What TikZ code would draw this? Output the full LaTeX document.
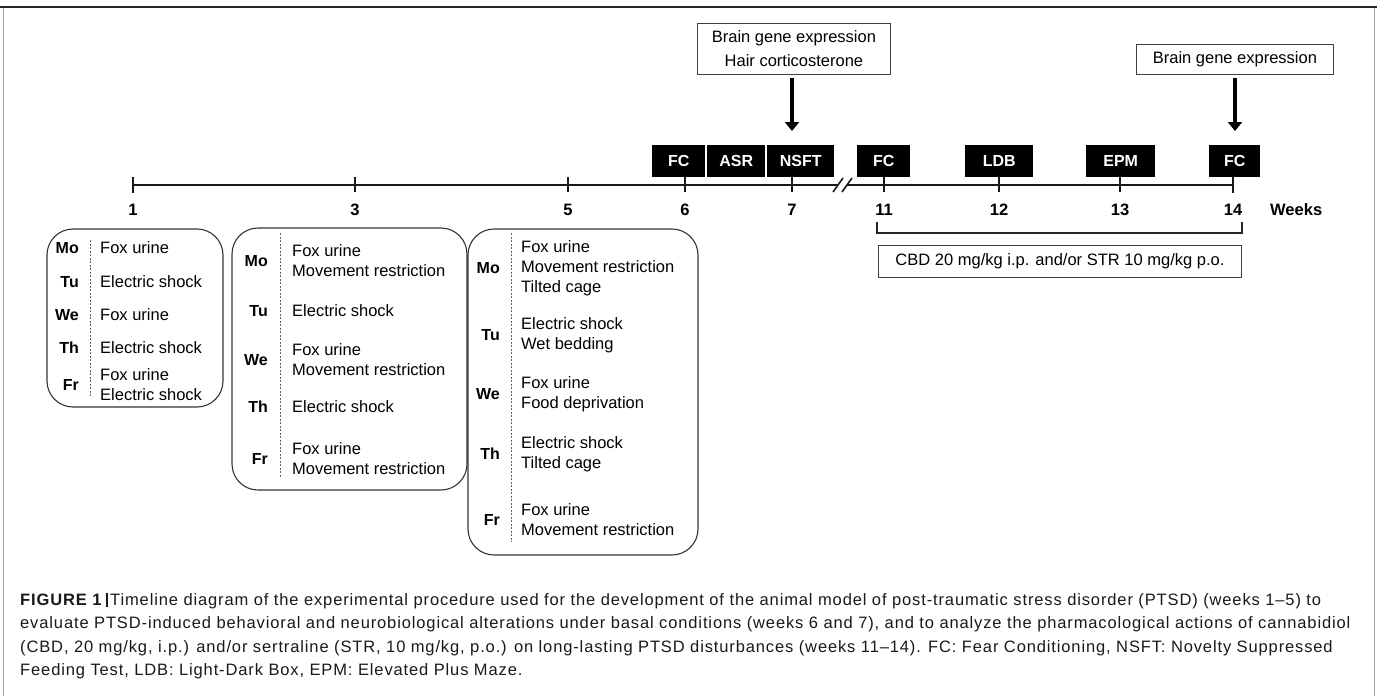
\documentclass[tikz,border=0pt]{standalone}
\usepackage{fontspec}
\setmainfont{Liberation Sans}
\newfontfamily\capfont[LetterSpace=5.3]{Liberation Sans}
\usetikzlibrary{arrows.meta}
\begin{document}
\begin{tikzpicture}[x=1pt,y=-1pt,
  txt/.style={font=\fontsize{16.5}{20}\selectfont, inner sep=0pt, align=left, anchor=west},
  day/.style={font=\bfseries\fontsize{16}{20}\selectfont, inner sep=0pt, anchor=east},
  wk/.style={font=\bfseries\fontsize{16.5}{20}\selectfont, inner sep=0pt},
  blk/.style={fill=black, text=white, font=\bfseries\fontsize{16}{20}\selectfont, inner sep=0pt, anchor=north west},
  rbox/.style={draw=black!80, line width=1.1pt, rounded corners=26pt},
  wbox/.style={draw=black!75, line width=0.9pt, fill=white, font=\fontsize{16.5}{20}\selectfont, inner sep=0pt, align=center, anchor=north west},
  dline/.style={dash pattern=on 2pt off 1.5pt, black!60, line width=0.6pt},
  tl/.style={line width=1.6pt, black!90},
  bigarrow/.style={line width=3.5pt, -{Triangle[length=9pt,width=14pt]}},
  captxt/.style={font=\capfont\fontsize{16.5}{20}\selectfont, inner sep=0pt, anchor=base west, text=black!90}
]
\useasboundingbox (0,0) rectangle (1377,696);
% frame
\draw[black!85, line width=2.2pt] (0,7) -- (1377,7);
\draw[black!35, line width=1pt] (3,8) -- (3,696);
\draw[black!35, line width=1pt] (1374,8) -- (1374,696);

% timeline
\coordinate (w1) at (133,185);
\coordinate (w3) at (355,185);
\coordinate (w5) at (568,185);
\coordinate (w6) at (685,185);
\coordinate (w7) at (792,185);
\coordinate (b1) at (838,185);
\coordinate (b2) at (847,185);
\coordinate (w11) at (884,185);
\coordinate (w12) at (999,185);
\coordinate (w13) at (1120,185);
\coordinate (w14) at (1233,185);
\draw[tl] (w1) -- (b1);
\draw[tl] (b2) -- (w14);
\draw[tl] ([shift={(-5,7)}]b1) -- ([shift={(5,-7)}]b1);
\draw[tl] ([shift={(-5,7)}]b2) -- ([shift={(5,-7)}]b2);
\foreach \c in {w1,w14} \draw[tl] ([yshift=-8]\c) -- ([yshift=8]\c);
\foreach \c in {w3,w5,w6,w7,w11,w12,w13} \draw[tl] ([yshift=-7]\c) -- ([yshift=8]\c);

% week labels
\node[wk] (l1) at (133,210) {1};
\node[wk] (l3) at (355,210) {3};
\node[wk] (l5) at (568,210) {5};
\node[wk] (l6) at (685,210) {6};
\node[wk] (l7) at (792,210) {7};
\node[wk] (l11) at (884,210) {11};
\node[wk] (l12) at (999,210) {12};
\node[wk] (l13) at (1120,210) {13};
\node[wk] (l14) at (1233,210) {14};
\node[wk, anchor=west] (lw) at (1270,210) {Weeks};

% black boxes
\node[blk, minimum width=53pt, minimum height=32pt] (fc6) at (652,145) {FC};
\node[blk, minimum width=58pt, minimum height=32pt] (asr) at (707,145) {ASR};
\node[blk, minimum width=67pt, minimum height=32pt] (nsft) at (767,145) {NSFT};
\node[blk, minimum width=53pt, minimum height=32pt] (fc11) at (857,145) {FC};
\node[blk, minimum width=68pt, minimum height=32pt] (ldb) at (965,145) {LDB};
\node[blk, minimum width=69pt, minimum height=32pt] (epm) at (1086,145) {EPM};
\node[blk, minimum width=51pt, minimum height=32pt] (fc14) at (1209,145) {FC};

% top boxes and arrows
\node[wbox, minimum width=193pt, minimum height=51pt, font=\fontsize{16.5}{24}\selectfont] (tb1) at (697,23) {Brain gene expression\\Hair corticosterone};
\node[wbox, minimum width=197pt, minimum height=30pt] (tb2) at (1136,44) {Brain gene expression};
\coordinate (a7) at (792,131);
\coordinate (a14) at (1235,131);
\draw[bigarrow] (tb1.south -| a7) ++(0,3) -- (a7);
\draw[bigarrow] (tb2.south -| a14) ++(0,3) -- (a14);

% treatment bracket
\coordinate (br1) at (877,222);
\coordinate (br2) at (1242,222);
\draw[line width=1.2pt, black!85] (br1) -- ++(0,11) -| (br2);
\node[wbox, minimum width=363pt, minimum height=32pt] (cbd) at (878,245) {CBD 20 mg/kg i.p. and/or STR 10 mg/kg p.o.};

% ---- Box 1 (week 1)
\draw[rbox] (47,229) rectangle (223,407);
\draw[dline] (90,240) -- (90,397);
\node[day] (d1mo) at (79,248) {Mo};
\node[txt] (t1mo) at (100,248) {Fox urine};
\node[day] (d1tu) at (79,282) {Tu};
\node[txt] (t1tu) at (100,282) {Electric shock};
\node[day] (d1we) at (79,315) {We};
\node[txt] (t1we) at (100,315) {Fox urine};
\node[day] (d1th) at (79,348) {Th};
\node[txt] (t1th) at (100,348) {Electric shock};
\node[day] (d1fr) at (79,385) {Fr};
\node[txt] (t1fr) at (100,385) {Fox urine\\Electric shock};

% ---- Box 2 (week 3)
\draw[rbox] (232,228) rectangle (467,490);
\draw[dline] (280,233) -- (280,477);
\node[day] (d2mo) at (268,261) {Mo};
\node[txt] (t2mo) at (292,261) {Fox urine\\Movement restriction};
\node[day] (d2tu) at (268,311) {Tu};
\node[txt] (t2tu) at (292,311) {Electric shock};
\node[day] (d2we) at (268,360) {We};
\node[txt] (t2we) at (292,360) {Fox urine\\Movement restriction};
\node[day] (d2th) at (268,407) {Th};
\node[txt] (t2th) at (292,407) {Electric shock};
\node[day] (d2fr) at (268,459) {Fr};
\node[txt] (t2fr) at (292,459) {Fox urine\\Movement restriction};

% ---- Box 3 (week 5)
\draw[rbox] (468,229) rectangle (698,555);
\draw[dline] (511,233) -- (511,542);
\node[day] (d3mo) at (500,268) {Mo};
\node[txt] (t3mo) at (521,268) {Fox urine\\Movement restriction\\Tilted cage};
\node[day] (d3tu) at (500,335) {Tu};
\node[txt] (t3tu) at (521,335) {Electric shock\\Wet bedding};
\node[day] (d3we) at (500,394) {We};
\node[txt] (t3we) at (521,394) {Fox urine\\Food deprivation};
\node[day] (d3th) at (500,454) {Th};
\node[txt] (t3th) at (521,454) {Electric shock\\Tilted cage};
\node[day] (d3fr) at (500,520) {Fr};
\node[txt] (t3fr) at (521,520) {Fox urine\\Movement restriction};

% caption
\node[captxt] (c1) at (20,605) {\textbf{FIGURE 1}\hspace{4pt}\rule[-2pt]{1.8pt}{14pt}\hspace{2pt}Timeline diagram of the experimental procedure used for the development of the animal model of post-traumatic stress disorder (PTSD) (weeks 1–5) to};
\node[captxt] (c2) at (20,628) {evaluate PTSD-induced behavioral and neurobiological alterations under basal conditions (weeks 6 and 7), and to analyze the pharmacological actions of cannabidiol};
\node[captxt] (c3) at (20,652) {(CBD, 20 mg/kg, i.p.) and/or sertraline (STR, 10 mg/kg, p.o.) on long-lasting PTSD disturbances (weeks 11–14). FC: Fear Conditioning, NSFT: Novelty Suppressed};
\node[captxt] (c4) at (20,675) {Feeding Test, LDB: Light-Dark Box, EPM: Elevated Plus Maze.};
\end{tikzpicture}
\end{document}
